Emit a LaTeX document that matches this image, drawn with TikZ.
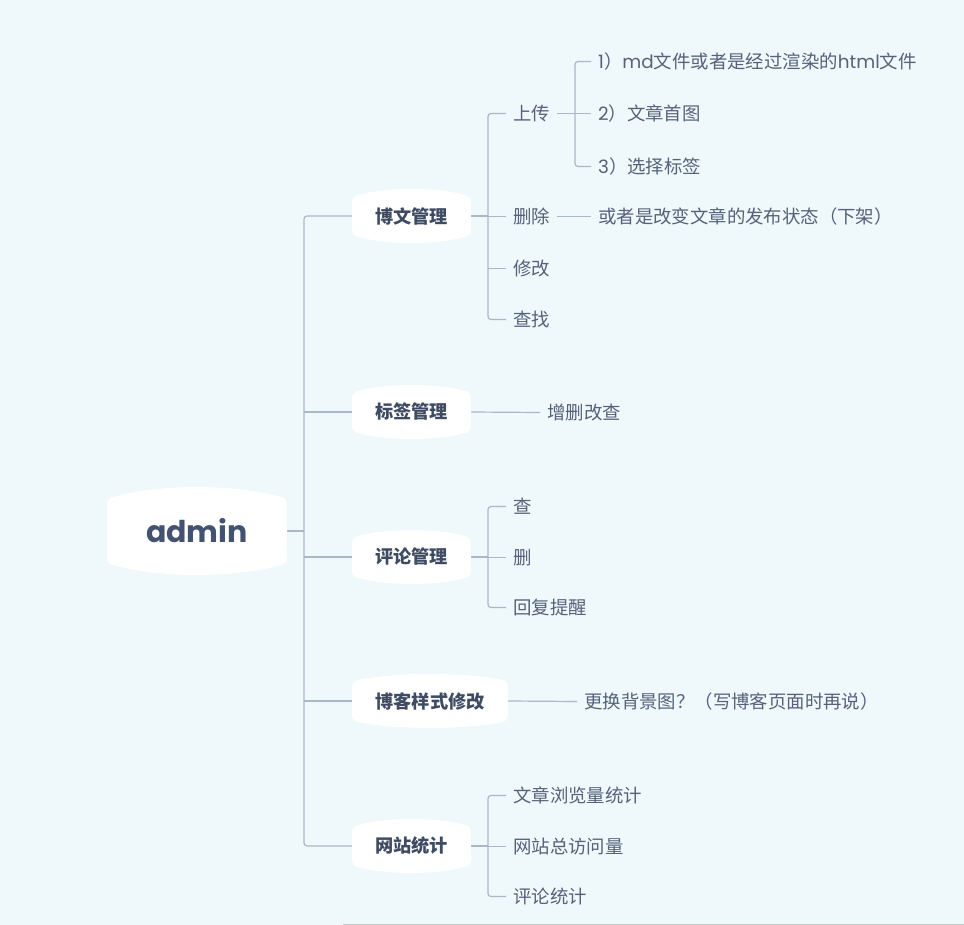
\documentclass[tikz,border=0pt]{standalone}
\usepackage{fontspec}
\setmainfont{Noto Sans CJK SC}
\newfontfamily\po{Poppins}
\usetikzlibrary{backgrounds}
\definecolor{bgc}{HTML}{EFF8FB}
\definecolor{linec}{HTML}{A9B7C9}
\definecolor{leafc}{HTML}{55627A}
\definecolor{boldc}{HTML}{3E4B62}
\definecolor{rootc}{HTML}{435270}
\newcommand\bub[5]{% cx cy w h b
 \pgfmathsetmacro\zzL{#1-#3/2}\pgfmathsetmacro\zzR{#1+#3/2}%
 \pgfmathsetmacro\zzT{#2-#4/2}\pgfmathsetmacro\zzB{#2+#4/2}%
 \pgfmathsetmacro\zzb{#5}%
 \pgfmathsetmacro\zzc{(\zzb-1.5)*4/3}%
 \pgfmathsetmacro\zzw{0.3*#3}%
 \fill[white]
  (\zzL,{\zzT+\zzb+6}) -- (\zzL,{\zzB-\zzb-6})
  .. controls (\zzL,{\zzB-\zzb-2}) and ({\zzL+3},{\zzB-\zzb+1}) .. ({\zzL+8},{\zzB-\zzb+1.5})
  .. controls ({\zzL+\zzw},{\zzB-\zzb+1.5+\zzc}) and ({\zzR-\zzw},{\zzB-\zzb+1.5+\zzc}) .. ({\zzR-8},{\zzB-\zzb+1.5})
  .. controls ({\zzR-3},{\zzB-\zzb+1}) and (\zzR,{\zzB-\zzb-2}) .. (\zzR,{\zzB-\zzb-6})
  -- (\zzR,{\zzT+\zzb+6})
  .. controls (\zzR,{\zzT+\zzb+2}) and ({\zzR-3},{\zzT+\zzb-1}) .. ({\zzR-8},{\zzT+\zzb-1.5})
  .. controls ({\zzR-\zzw},{\zzT+\zzb-1.5-\zzc}) and ({\zzL+\zzw},{\zzT+\zzb-1.5-\zzc}) .. ({\zzL+8},{\zzT+\zzb-1.5})
  .. controls ({\zzL+3},{\zzT+\zzb-1}) and (\zzL,{\zzT+\zzb+2}) .. cycle;
}
\newcommand\lone[5]{% name cx cy w text
 \bub{#2}{#3}{#4}{54}{7}
 \node[lonestyle, minimum width=#4pt] (#1) at (#2,#3) {#5};
}
\tikzset{
 conn/.style={draw=linec, line width=1.2pt, rounded corners=3pt},
 leaf/.style={anchor=west, inner xsep=7pt, inner ysep=0pt, text=leafc,
   font=\fontsize{18.4pt}{20pt}\selectfont},
 lonestyle/.style={inner sep=0pt, minimum height=54pt, text=boldc,
   font=\fontsize{18.2pt}{20pt}\selectfont\bfseries},
 rootstyle/.style={inner sep=0pt, minimum width=180pt, minimum height=88pt, text=rootc,
   font=\fontsize{30pt}{32pt}\selectfont\po\bfseries},
}
\begin{document}
\begin{tikzpicture}[x=1pt,y=-1pt]
\begin{scope}[on background layer]
 \fill[bgc] (0,0) rectangle (964,925);
\end{scope}
\useasboundingbox (0,0) rectangle (964,925);
\draw[black!22, line width=1pt] (343,924.4) -- (964,924.4);

% root
\bub{197}{531}{180}{88}{11}
\node[rootstyle] (root) at (197,531) {admin};

% level 1
\lone{bw}{411.5}{216}{119}{博文管理}
\lone{bq}{411.5}{412}{119}{标签管理}
\lone{pl}{411.5}{557}{119}{评论管理}
\lone{ys}{430}{701}{156}{博客样式修改}
\lone{wz}{411.5}{846}{119}{网站统计}

% leaves of 博文管理
\node[leaf] (up) at (506,113.5) {上传};
\node[leaf] (sc) at (506,216.5) {删除};
\node[leaf] (xg) at (506,268.5) {修改};
\node[leaf] (cz) at (506,319.5) {查找};
\node[leaf] (m1) at (591,61.5) {{\po 1}）{\po md}文件或者是经过渲染的{\po html}文件};
\node[leaf] (m2) at (591,113.5) {{\po 2}）文章首图};
\node[leaf] (m3) at (591,166.5) {{\po 3}）选择标签};
\node[leaf] (hz) at (591,216.5) {或者是改变文章的发布状态（下架）};
% 标签管理
\node[leaf] (zs) at (540,412.5) {增删改查};
% 评论管理
\node[leaf] (pc) at (506,506.5) {查};
\node[leaf] (sh) at (506,557.5) {删};
\node[leaf] (hf) at (506,607.5) {回复提醒};
% 博客样式修改
\node[leaf] (gh) at (577,701.5) {更换背景图？（写博客页面时再说）};
% 网站统计
\node[leaf] (ll) at (506,795.5) {文章浏览量统计};
\node[leaf] (zf) at (506,846.5) {网站总访问量};
\node[leaf] (pt) at (506,896.5) {评论统计};

\coordinate (t) at (304,531);
\coordinate (jbw) at (488,216);
\coordinate (jup) at (575,113);
\coordinate (jpl) at (488,557);
\coordinate (jwz) at (488,846);

\begin{scope}[on background layer]
 \draw[conn] (root.east) -- (t);
 \draw[conn] (bw.west) -| (t) |- (wz.west);
 \draw[conn] (bq.west) -- (bq.west -| t);
 \draw[conn] (pl.west) -- (pl.west -| t);
 \draw[conn] (ys.west) -- (ys.west -| t);
 % 博文管理
 \draw[conn] (up.west) -| (jbw) |- (cz.west);
 \draw[conn] (bw.east) -- (bw.east -| jbw);
 \draw[conn] (sc.west) -- (sc.west -| jbw);
 \draw[conn] (xg.west) -- (xg.west -| jbw);
 \draw[conn] (m1.west) -| (jup) |- (m3.west);
 \draw[conn] (up.east) -- (m2.west);
 \draw[conn] (sc.east) -- (hz.west);
 % 标签管理
 \draw[conn] (bq.east) -- (zs.west);
 % 评论管理
 \draw[conn] (pc.west) -| (jpl) |- (hf.west);
 \draw[conn] (pl.east) -- (pl.east -| jpl);
 \draw[conn] (sh.west) -- (sh.west -| jpl);
 % 博客样式修改
 \draw[conn] (ys.east) -- (gh.west);
 % 网站统计
 \draw[conn] (ll.west) -| (jwz) |- (pt.west);
 \draw[conn] (wz.east) -- (wz.east -| jwz);
 \draw[conn] (zf.west) -- (zf.west -| jwz);
\end{scope}
\end{tikzpicture}
\end{document}
